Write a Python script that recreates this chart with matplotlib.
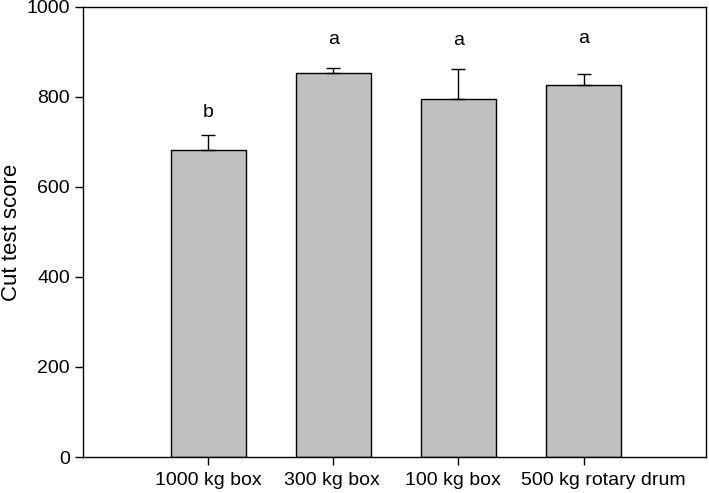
import numpy as np
import matplotlib
matplotlib.use("Agg")
import matplotlib.pyplot as plt
import matplotlib.transforms as mtransforms

plt.rcParams['font.family'] = ['Liberation Sans', 'DejaVu Sans']

categories = ["1000 kg box", "300 kg box", "100 kg box", "500 kg rotary drum"]
means = [682, 853, 795, 827]
errors = [34, 12, 67, 24]
letters = ["b", "a", "a", "a"]
letter_y = [765, 927, 925, 930]

fig = plt.figure(figsize=(7.09, 4.93), dpi=100)
ax = fig.add_axes([0.117, 0.073, 0.879, 0.913])

x = np.arange(len(categories))
ax.bar(x, means, width=0.6, color='#c0c0c0', edgecolor='black', linewidth=1.0, zorder=2)
ax.errorbar(x, means, yerr=[np.zeros(len(errors)), errors], fmt='none',
            ecolor='black', elinewidth=1.0, capsize=4.7, capthick=1.0, zorder=3)

for xi, lab, ly in zip(x, letters, letter_y):
    ax.text(xi, ly, lab, ha='center', va='center', fontsize=14)

ax.set_xlim(-1, 3.98)
ax.set_ylim(0, 1000)
ax.set_yticks([0, 200, 400, 600, 800, 1000])
ax.set_xticks(x)
ax.set_xticklabels(categories)
ax.tick_params(axis='both', direction='out', length=6, width=1.0, labelsize=14)
ax.tick_params(axis='x', pad=5)
ax.set_ylabel("Cut test score", fontsize=16)
ax.yaxis.set_label_coords(-0.098, 0.5)
for s in ax.spines.values():
    s.set_linewidth(1.0)

# nudge the crowded labels apart, as in the original
shifts = [0, -1, -6, 20]
for lbl, dx in zip(ax.get_xticklabels(), shifts):
    lbl.set_transform(lbl.get_transform() +
                      mtransforms.ScaledTranslation(dx / 100, 0, fig.dpi_scale_trans))

fig.savefig("out.png", dpi=100)
